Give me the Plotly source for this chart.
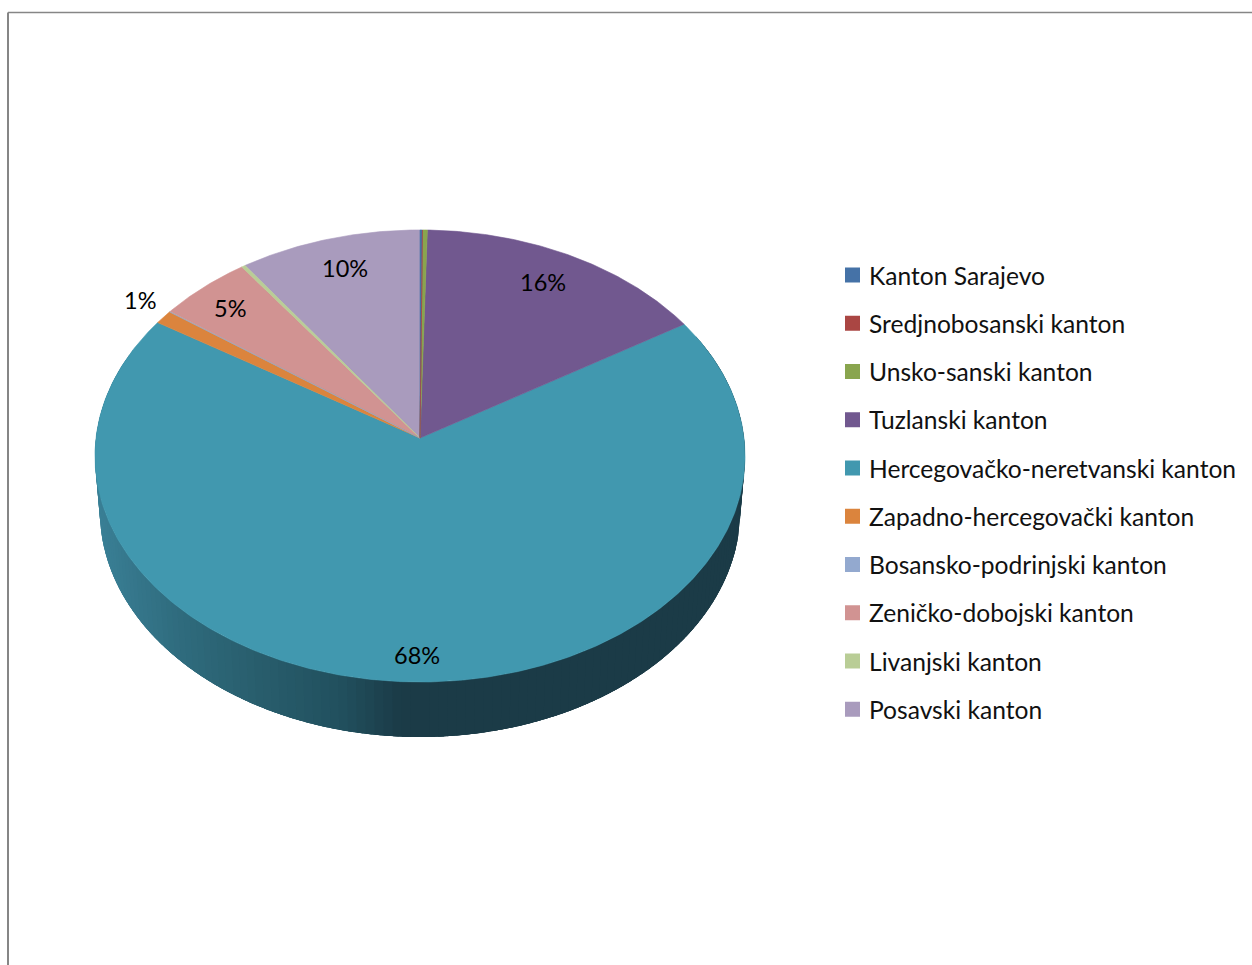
import numpy as np
import plotly.graph_objects as go

# --- data -------------------------------------------------------------
categories = ["Kanton Sarajevo", "Sredjnobosanski kanton", "Unsko-sanski kanton",
              "Tuzlanski kanton", "Hercegovačko-neretvanski kanton",
              "Zapadno-hercegovački kanton", "Bosansko-podrinjski kanton",
              "Zeničko-dobojski kanton", "Livanjski kanton", "Posavski kanton"]
values = [0.12, 0.01, 0.26, 15.75, 67.83, 1.0, 0.04, 5.0, 0.2, 9.75]
colors = ["#4572A7", "#AA4643", "#89A54E", "#71588F", "#4198AF",
          "#DB843D", "#93A9CF", "#D19392", "#B9CD96", "#A99BBD"]

# --- layout of the drawing --------------------------------------------
W, H = 1252, 965
CX, CY, RX, RY, PERSP = 420.0, 438.0, 324.0, 224.6, -0.0796
DEPTH, LOWER = 55.0, 0.985
FONT = "Lato"
label_pos = {3: (543, 282), 4: (417, 655), 5: (140, 300), 7: (230, 308), 9: (345, 268)}
LEG_X, LEG_TEXT_X, LEG_TOP, LEG_STEP = 852.5, 867, 275, 48.25
side_stops_x = [95, 180, 260, 340, 400, 1000]
side_stops_rgb = [(58, 128, 150), (47, 107, 125), (40, 93, 108), (33, 80, 94), (27, 59, 71), (27, 59, 71)]


def project(deg, r=1.0, dy=0.0, scale=1.0):
    t = np.radians(deg)
    u, v = r * np.sin(t), -r * np.cos(t)
    d = 1 + PERSP * v
    return CX + scale * RX * u / d, CY + dy + RY * v / d


fig = go.Figure()

# side of the disc: overlapping strips, painted left to right so no seams show
edges = np.arange(294, 65.99, -1.5)
for a, b in zip(edges[:-1], edges[1:]):
    angs = np.linspace(a, b - 4, 5)
    tx, ty = project(angs)
    lx, ly = project(angs[::-1], dy=DEPTH, scale=LOWER)
    mx = float(project((a + b) / 2)[0])
    rgb = [int(round(np.interp(mx, side_stops_x, [s[i] for s in side_stops_rgb]))) for i in range(3)]
    col = f"rgb({rgb[0]},{rgb[1]},{rgb[2]})"
    fig.add_trace(go.Scatter(x=np.concatenate([tx, lx, tx[:1]]), y=np.concatenate([ty, ly, ty[:1]]),
                             mode="lines", fill="toself", fillcolor=col, line=dict(color=col, width=0),
                             showlegend=False, hoverinfo="skip"))

# top face: slices from the values
total = sum(values)
cum = np.concatenate([[0], np.cumsum(values)]) / total * 360
order = sorted(range(len(values)), key=lambda i: -values[i])
for i in order:
    angs = np.linspace(cum[i], cum[i + 1], max(2, int((cum[i + 1] - cum[i]) * 2) + 2))
    rx, ry = project(angs)
    fig.add_trace(go.Scatter(x=np.concatenate([[CX], rx, [CX]]), y=np.concatenate([[CY], ry, [CY]]),
                             mode="lines", fill="toself", fillcolor=colors[i],
                             line=dict(color=colors[i], width=0.6),
                             name=categories[i], showlegend=False, hoverinfo="skip"))

# legend
for i, name in enumerate(categories):
    y = LEG_TOP + i * LEG_STEP
    fig.add_trace(go.Scatter(x=[LEG_X], y=[y], mode="markers",
                             marker=dict(symbol="square", size=15, color=colors[i], line=dict(width=0)),
                             showlegend=False, hoverinfo="skip"))
    fig.add_annotation(x=LEG_TEXT_X, y=y, text=name, xanchor="left", yanchor="middle", showarrow=False,
                       font=dict(family=FONT, size=24.6, color="#111111"))

# percentage labels
for i, (lx, ly) in label_pos.items():
    fig.add_annotation(x=lx, y=ly, text=f"{round(values[i] / total * 100)}%", showarrow=False,
                       xanchor="center", yanchor="middle",
                       font=dict(family=FONT, size=23.5, color="#000000"))

# chart frame (top and left edges visible)
fig.add_shape(type="line", x0=8, x1=W, y0=12.5, y1=12.5, line=dict(color="#868686", width=1.5))
fig.add_shape(type="line", x0=8, x1=8, y0=12.5, y1=H, line=dict(color="#868686", width=2))

fig.update_layout(width=W, height=H, margin=dict(l=0, r=0, t=0, b=0), autosize=False,
                  paper_bgcolor="white", plot_bgcolor="white",
                  xaxis=dict(range=[0, W], visible=False, fixedrange=True),
                  yaxis=dict(range=[H, 0], visible=False, fixedrange=True))
fig.write_html("out.html", config={"displayModeBar": False},
               post_script="document.body.style.margin='0';document.body.style.overflow='hidden';")
